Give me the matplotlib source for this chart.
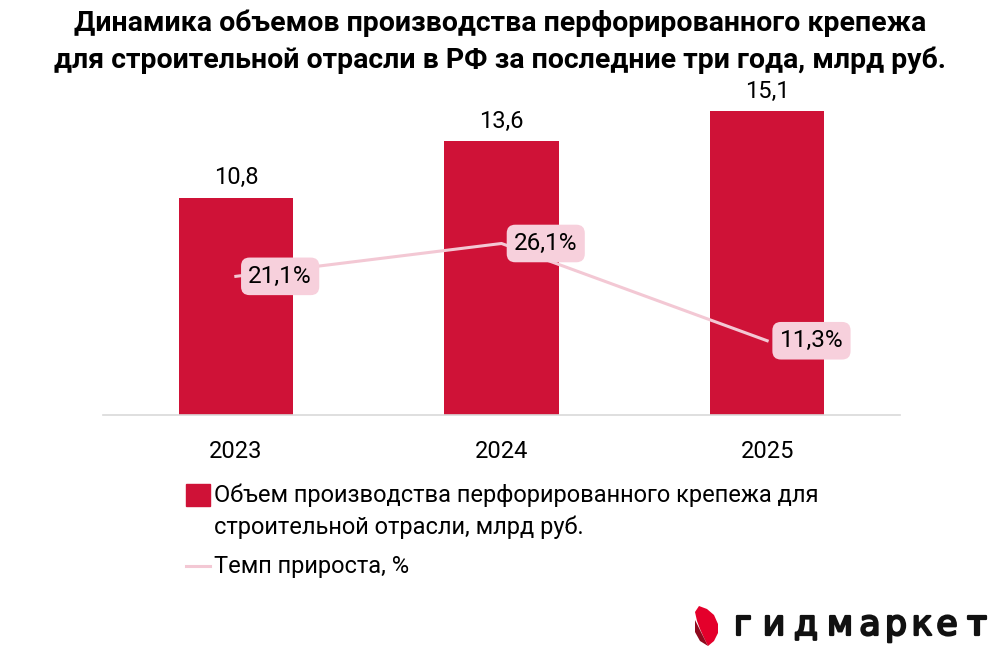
import matplotlib
matplotlib.use("Agg")
import matplotlib.pyplot as plt
import matplotlib.patheffects as pe
from matplotlib.patches import Rectangle, Polygon
from matplotlib.lines import Line2D

# ---- data ----
years = ["2023", "2024", "2025"]
volume = [10.8, 13.6, 15.1]
growth = [21.1, 26.1, 11.3]
volume_labels = ["10,8", "13,6", "15,1"]
growth_labels = ["21,1%", "26,1%", "11,3%"]
title = ("Динамика объемов производства перфорированного крепежа\n"
         "для строительной отрасли в РФ за последние три года, млрд руб.")
legend_bar = "Объем производства перфорированного крепежа для\nстроительной отрасли, млрд руб."
legend_line = "Темп прироста, %"
logo_text = "гидмаркет"

BAR = "#CF1237"
LINE = "#F3C8D4"
BOX = "#F7D0DC"
FONT = ["Roboto", "DejaVu Sans"]
plt.rcParams["font.family"] = FONT

W, H = 1000, 650
fig = plt.figure(figsize=(W / 100, H / 100), dpi=100)

def fx(px):
    return px / W

def fy(py):
    return 1 - py / H

# main axes: x 103..900 px, baseline at 415 px, top at 93 px
ax = fig.add_axes([fx(103), fy(415), fx(900) - fx(103), fy(93) - fy(415)])
x = list(range(len(years)))
ax.bar(x, volume, width=0.43, color=BAR, zorder=2)
ax.set_xlim(-0.5, 2.5)
ax.set_ylim(0, 16)
for s in ["top", "right", "left"]:
    ax.spines[s].set_visible(False)
ax.spines["bottom"].set_color("#D9D9D9")
ax.spines["bottom"].set_linewidth(1.2)
ax.set_yticks([])
ax.set_xticks(x)
ax.set_xticklabels(years, fontsize=17)
ax.tick_params(axis="x", length=0, pad=18)
for xi, v, lab in zip(x, volume, volume_labels):
    ax.annotate(lab, (xi, v), xytext=(0, 6), textcoords="offset points",
                ha="center", va="bottom", fontsize=17)

ax2 = ax.twinx()
ax2.set_ylim(0, 49)
ax2.axis("off")
ax2.plot(x, growth, color=LINE, lw=2.2, zorder=3)
for xi, v, lab in zip(x, growth, growth_labels):
    ax2.annotate(lab, (xi, v), xytext=(9, 0), textcoords="offset points",
                 ha="left", va="center", fontsize=17.5, zorder=4,
                 bbox=dict(boxstyle="round,pad=0.3,rounding_size=0.35",
                           fc=BOX, ec="none"))

fig.text(0.5, fy(42), title, ha="center", va="center", fontsize=20.5,
         fontweight="bold", linespacing=1.45)

# legend
fig.patches.append(Rectangle((fx(186), fy(506)), fx(24), fy(484) - fy(506),
                             transform=fig.transFigure, color=BAR))
fig.text(fx(214), fy(511), legend_bar, ha="left", va="center", fontsize=17,
         linespacing=1.45)
fig.lines.append(Line2D([fx(186), fx(210)], [fy(566), fy(566)],
                        transform=fig.transFigure, color=LINE, lw=2.2))
fig.text(fx(214), fy(566), legend_line, ha="left", va="center", fontsize=17)

# logo
lax = fig.add_axes([fx(690), fy(650), fx(310), fy(595) - fy(650)])
lax.set_xlim(690, 1000)
lax.set_ylim(650, 595)
lax.axis("off")
lax.add_patch(Polygon([(699, 606), (707, 609), (714, 615), (718, 624), (718, 633),
                       (714, 641), (708, 646), (704, 638), (700, 629), (697, 621),
                       (695, 612)], closed=True, color="#E4002B", lw=0))
lax.add_patch(Polygon([(695, 620), (701, 632), (708, 646), (700, 641), (695, 632)],
                      closed=True, color="#8E0A1E", lw=0))
centers = [743, 774, 806, 840, 870, 896, 922, 947, 977]
for ch, cx in zip(logo_text, centers):
    lax.text(cx, 625, ch, ha="center", va="center", fontsize=25,
             color="#111111", family=["DejaVu Sans"],
             path_effects=[pe.withStroke(linewidth=1.6, foreground="#111111")])

fig.savefig("out.png", dpi=100)
